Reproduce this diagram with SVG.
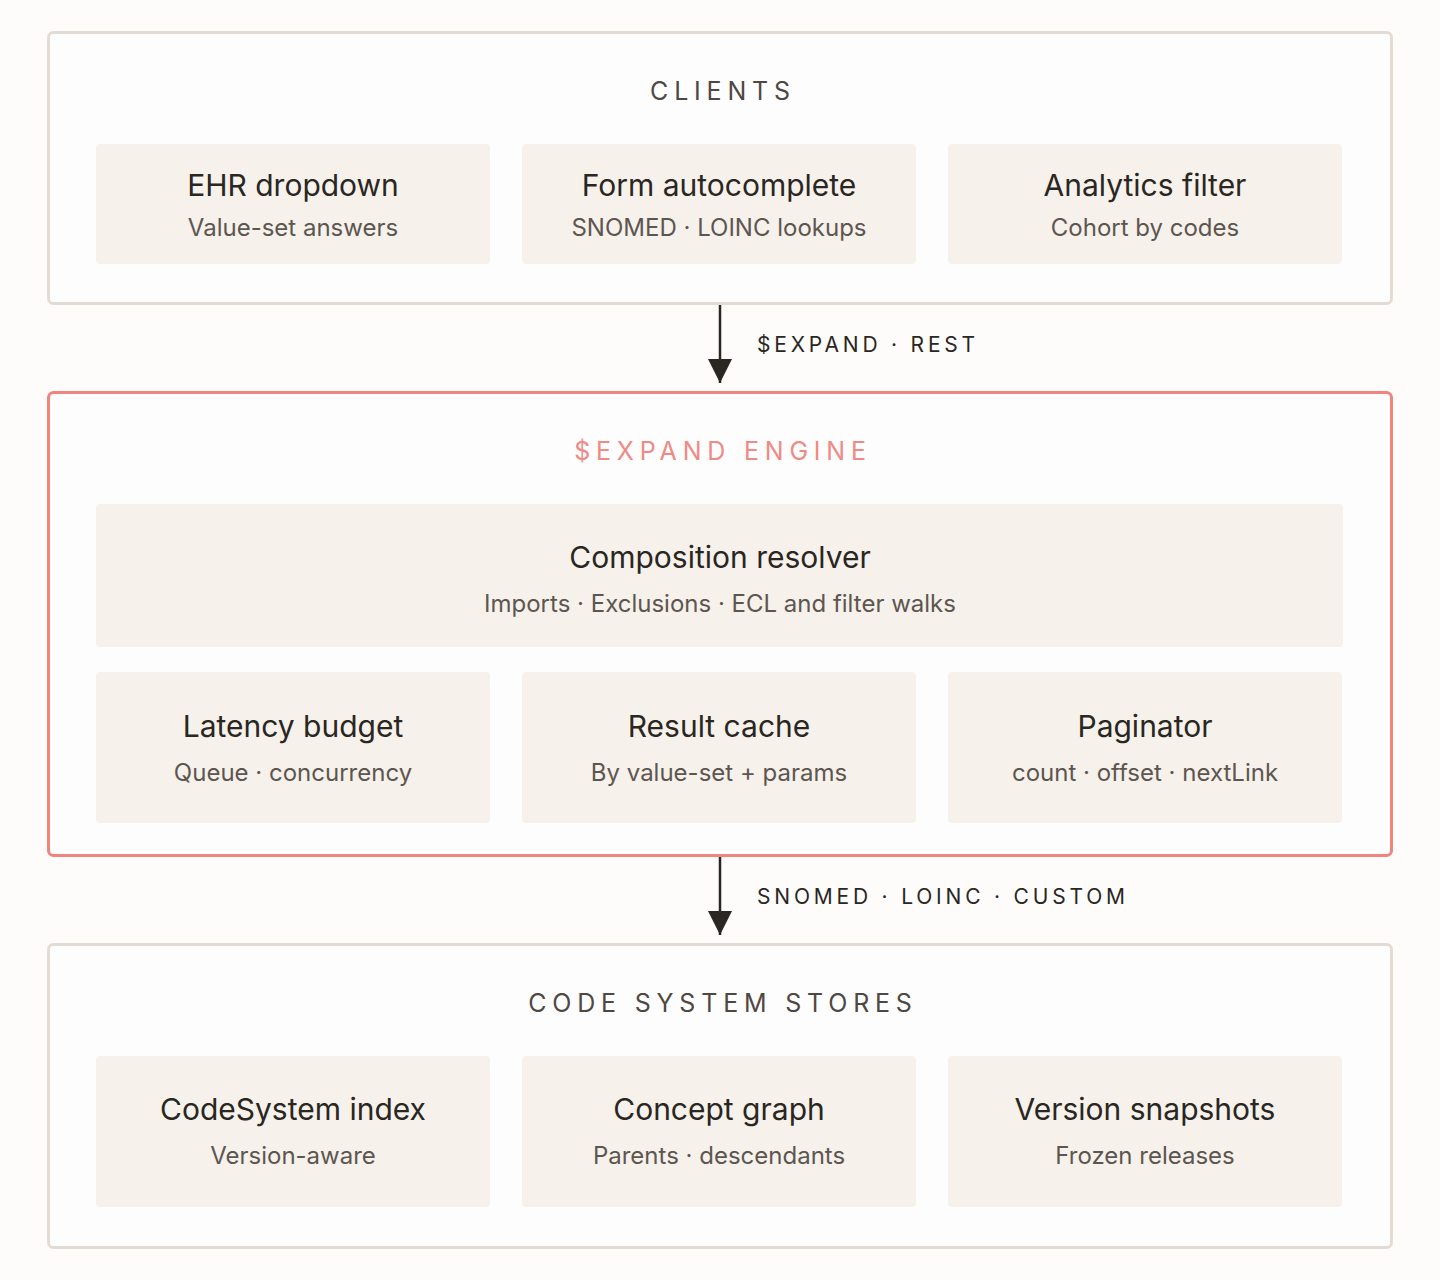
<svg xmlns="http://www.w3.org/2000/svg" width="1440" height="1280" viewBox="0 0 1440 1280">
<defs>
<style>
.bg{fill:#fdfcfb}
.box{fill:#fefdfd;stroke:#e2dcd3;stroke-width:3}
.boxr{fill:#fefdfd;stroke:#ef857d;stroke-width:3}
.node{fill:#f6f1eb}
text{font-family:Inter,"Noto Sans","Liberation Sans",sans-serif;text-anchor:middle}
.sec{font-size:25px;letter-spacing:5.8px;fill:#4f4842}
.secr{font-size:25px;letter-spacing:5.8px;fill:#ef8a84}
.t{font-size:30px;fill:#2a2622}
.s{font-size:24px;fill:#5d5650}
.lab{font-size:21px;letter-spacing:3.8px;fill:#2a2622;text-anchor:start}
.conn{stroke:#2a2622;stroke-width:2.5;fill:none}
</style>
<marker id="arr" viewBox="0 0 24 24" markerWidth="24" markerHeight="24" refX="24" refY="12" orient="auto" markerUnits="userSpaceOnUse">
<path d="M0,0 L24,12 L0,24 Z" fill="#2a2622"/>
</marker>
</defs>
<rect class="bg" x="0" y="0" width="1440" height="1280"/>

<g id="clients">
<rect class="box" x="48.5" y="32.5" width="1343" height="271" rx="5"/>
<text class="sec" x="723" y="100">CLIENTS</text>
</g>
<g id="ehr-dropdown">
<rect class="node" x="96" y="144" width="394" height="120" rx="4"/>
<text class="t" x="293" y="196">EHR dropdown</text>
<text class="s" x="293" y="236">Value-set answers</text>
</g>
<g id="form-autocomplete">
<rect class="node" x="522" y="144" width="394" height="120" rx="4"/>
<text class="t" x="719" y="196">Form autocomplete</text>
<text class="s" x="719" y="236">SNOMED · LOINC lookups</text>
</g>
<g id="analytics-filter">
<rect class="node" x="948" y="144" width="394" height="120" rx="4"/>
<text class="t" x="1145" y="196">Analytics filter</text>
<text class="s" x="1145" y="236">Cohort by codes</text>
</g>

<g id="expand-engine">
<rect class="boxr" x="48.5" y="392.5" width="1343" height="463" rx="5"/>
<text class="secr" x="723" y="460">$EXPAND ENGINE</text>
</g>
<g id="composition-resolver">
<rect class="node" x="96" y="504" width="1247" height="143" rx="4"/>
<text class="t" x="720" y="568">Composition resolver</text>
<text class="s" x="720" y="612">Imports · Exclusions · ECL and filter walks</text>
</g>
<g id="latency-budget">
<rect class="node" x="96" y="672" width="394" height="151" rx="4"/>
<text class="t" x="293" y="737">Latency budget</text>
<text class="s" x="293" y="781">Queue · concurrency</text>
</g>
<g id="result-cache">
<rect class="node" x="522" y="672" width="394" height="151" rx="4"/>
<text class="t" x="719" y="737">Result cache</text>
<text class="s" x="719" y="781">By value-set + params</text>
</g>
<g id="paginator">
<rect class="node" x="948" y="672" width="394" height="151" rx="4"/>
<text class="t" x="1145" y="737">Paginator</text>
<text class="s" x="1145" y="781">count · offset · nextLink</text>
</g>

<g id="code-system-stores">
<rect class="box" x="48.5" y="944.5" width="1343" height="303" rx="5"/>
<text class="sec" x="723" y="1012">CODE SYSTEM STORES</text>
</g>
<g id="codesystem-index">
<rect class="node" x="96" y="1056" width="394" height="151" rx="4"/>
<text class="t" x="293" y="1120">CodeSystem index</text>
<text class="s" x="293" y="1164">Version-aware</text>
</g>
<g id="concept-graph">
<rect class="node" x="522" y="1056" width="394" height="151" rx="4"/>
<text class="t" x="719" y="1120">Concept graph</text>
<text class="s" x="719" y="1164">Parents · descendants</text>
</g>
<g id="version-snapshots">
<rect class="node" x="948" y="1056" width="394" height="151" rx="4"/>
<text class="t" x="1145" y="1120">Version snapshots</text>
<text class="s" x="1145" y="1164">Frozen releases</text>
</g>

<g id="connectors">
<line class="conn" x1="720" y1="305" x2="720" y2="383" marker-end="url(#arr)"/>
<text class="lab" x="757" y="352">$EXPAND · REST</text>
<line class="conn" x1="720" y1="857" x2="720" y2="935" marker-end="url(#arr)"/>
<text class="lab" x="757" y="904">SNOMED · LOINC · CUSTOM</text>
</g>
</svg>
